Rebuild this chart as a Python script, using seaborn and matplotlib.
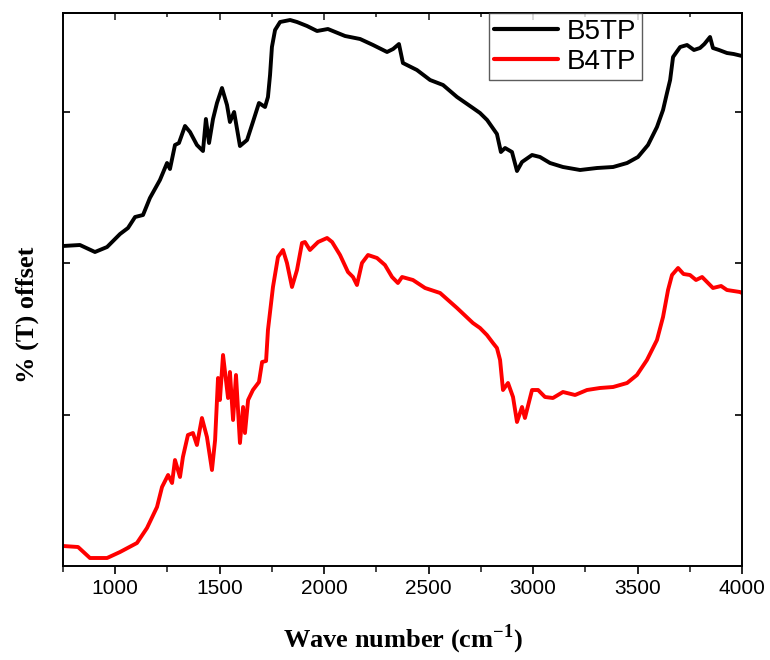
import numpy as np
import pandas as pd
import matplotlib
matplotlib.use("Agg")
import matplotlib.pyplot as plt
import seaborn as sns
from matplotlib.ticker import MultipleLocator

# ---- data (arbitrary offset transmittance units) ----
b5_wn = [750, 831, 903, 961, 1023, 1061, 1095, 1133, 1166, 1214, 1248, 1262, 1286, 1305,
         1334, 1358, 1391, 1420, 1434, 1449, 1468, 1487, 1511, 1535, 1549, 1569, 1597,
         1631, 1659, 1688, 1717, 1731, 1741, 1750, 1765, 1789, 1837, 1870, 1918, 1966,
         2018, 2100, 2172, 2234, 2301, 2330, 2358, 2377, 2444, 2507, 2569, 2636, 2712,
         2746, 2780, 2827, 2846, 2866, 2899, 2923, 2947, 2995, 3033, 3081, 3143, 3225,
         3306, 3383, 3450, 3502, 3550, 3593, 3622, 3641, 3656, 3670, 3704, 3737, 3770,
         3799, 3820, 3847, 3861, 3890, 3928, 3960, 4000]
b5_t = [320, 321, 314, 319, 332, 338, 349, 351, 368, 386, 403, 397, 421, 423,
        440, 434, 421, 415, 447, 423, 447, 463, 478, 461, 444, 454, 420,
        426, 444, 463, 459, 469, 491, 519, 536, 544, 546, 544, 540, 535,
        537, 530, 527, 521, 514, 517, 522, 503, 496, 486, 481, 469, 458,
        453, 446, 432, 414, 418, 414, 395, 404, 411, 409, 403, 399, 396,
        398, 399, 403, 409, 421, 439, 456, 473, 486, 509, 519, 521, 516,
        518, 522, 529, 518, 516, 513, 512, 510]

b4_wn = [750, 822, 879, 961, 1023, 1104, 1152, 1200, 1224, 1253, 1272, 1286, 1310, 1324,
         1348, 1372, 1391, 1415, 1439, 1463, 1478, 1492, 1501, 1516, 1540, 1549, 1564,
         1578, 1597, 1612, 1621, 1636, 1659, 1688, 1703, 1722, 1731, 1755, 1779, 1803,
         1822, 1846, 1870, 1894, 1908, 1932, 1971, 2014, 2038, 2076, 2114, 2138, 2157,
         2181, 2210, 2253, 2291, 2325, 2353, 2373, 2425, 2483, 2555, 2636, 2712, 2746,
         2779, 2808, 2827, 2842, 2856, 2880, 2904, 2923, 2947, 2961, 2995, 3024, 3057,
         3095, 3143, 3201, 3258, 3320, 3383, 3450, 3497, 3545, 3593, 3622, 3646, 3665,
         3694, 3720, 3751, 3780, 3809, 3861, 3900, 3928, 3990, 4000]
b4_t = [20, 19, 8, 8, 14, 23, 38, 59, 79, 91, 83, 106, 89, 109,
        131, 133, 121, 148, 129, 96, 126, 188, 166, 211, 168, 194, 146,
        191, 123, 159, 133, 166, 176, 184, 204, 205, 236, 279, 309, 316,
        303, 279, 296, 323, 324, 316, 324, 328, 324, 311, 294, 289, 281,
        303, 311, 308, 301, 289, 283, 289, 286, 278, 273, 258, 243, 238,
        231, 223, 218, 206, 176, 183, 169, 144, 159, 148, 176, 176, 169,
        168, 174, 171, 176, 178, 179, 183, 191, 206, 226, 249, 276, 291,
        298, 292, 291, 286, 289, 278, 280, 276, 274, 273]

df = pd.concat([
    pd.DataFrame({"wn": b5_wn, "T": b5_t, "sample": "B5TP"}),
    pd.DataFrame({"wn": b4_wn, "T": b4_t, "sample": "B4TP"}),
])

sns.set_style("white")
plt.rcParams["font.family"] = ["Liberation Sans", "DejaVu Sans"]
plt.rcParams["text.color"] = "black"
plt.rcParams["axes.labelcolor"] = "black"
plt.rcParams["mathtext.fontset"] = "custom"
plt.rcParams["mathtext.rm"] = "Liberation Serif:bold"
plt.rcParams["mathtext.bf"] = "Liberation Serif:bold"

fig = plt.figure(figsize=(7.7, 6.6), dpi=100)
ax = fig.add_axes([63/770, 94/660, 679/770, 553/660])

sns.lineplot(data=df, x="wn", y="T", hue="sample", estimator=None, sort=False,
             palette={"B5TP": "black", "B4TP": "#ff0000"}, linewidth=2.8, ax=ax)

ax.set_xlim(750, 4000)
ax.set_ylim(0, 553)
ax.xaxis.set_major_locator(MultipleLocator(500))
ax.xaxis.set_minor_locator(MultipleLocator(250))
ax.set_yticks([151, 303, 454])
ax.set_yticklabels([])
ax.tick_params(axis="x", which="major", direction="out", length=6, width=1.2,
               labelsize=15, colors="black", labelcolor="black", bottom=True)
ax.tick_params(axis="x", which="minor", direction="out", length=4, width=1.2, bottom=True)
ax.tick_params(axis="y", which="major", direction="in", length=5, width=1.2,
               left=True, right=True, colors="black")
for s in ax.spines.values():
    s.set_linewidth(1.4)
    s.set_color("black")

sec = ax.secondary_xaxis("top")
sec.xaxis.set_major_locator(MultipleLocator(500))
sec.xaxis.set_minor_locator(MultipleLocator(250))
sec.tick_params(which="major", direction="in", length=5, width=1.2, labeltop=False)
sec.tick_params(which="minor", direction="in", length=3, width=1.2)
sec.spines["top"].set_linewidth(1.4)

ax.set_xlabel("Wave number (cm$^{\\mathbf{-1}}$)", fontsize=19, fontweight="bold",
              family=["Liberation Serif", "DejaVu Serif"], color="black")
ax.xaxis.set_label_coords(0.5, -0.103)
ax.set_ylabel("% (T) offset", fontsize=19, fontweight="bold",
              family=["Liberation Serif", "DejaVu Serif"], color="black")
ax.yaxis.set_label_coords(-0.035, 0.455)

leg = ax.legend(loc="upper left", bbox_to_anchor=(0.627, 1.0), borderaxespad=0,
                fontsize=20, frameon=True, fancybox=False, handlelength=2.3,
                handletextpad=0.3, borderpad=0.2, labelspacing=0.15)
leg.get_frame().set_edgecolor("#333333")
leg.get_frame().set_linewidth(1.0)
for line in leg.get_lines():
    line.set_linewidth(3)
for t in leg.get_texts():
    t.set_color("black")

fig.savefig("out.png", dpi=100)
